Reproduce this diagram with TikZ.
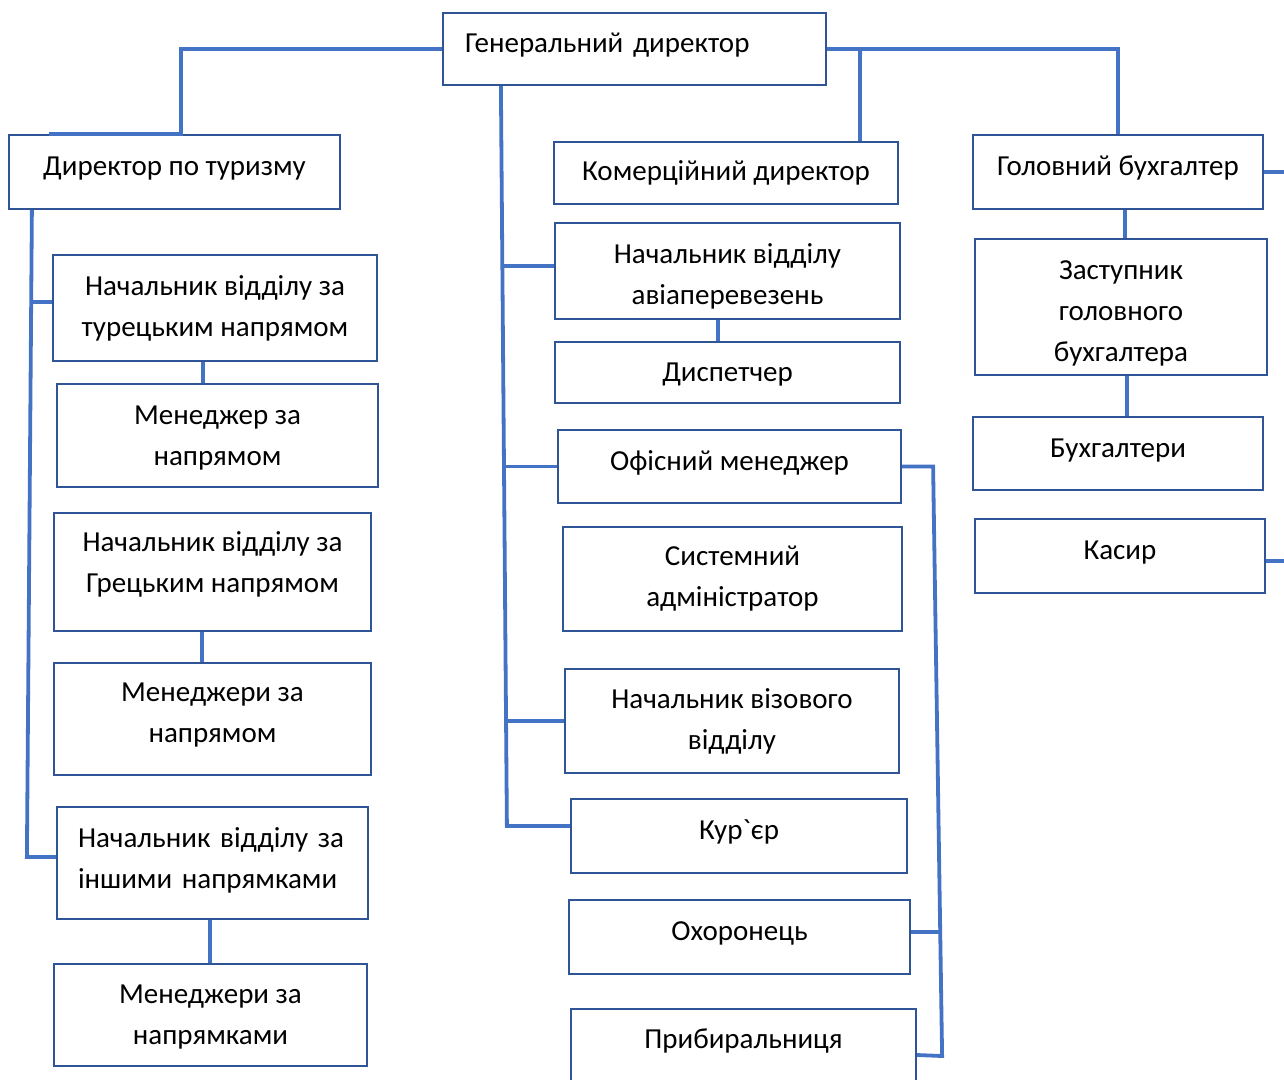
\documentclass[tikz,border=0pt]{standalone}
\usepackage{fontspec}
\setmainfont{Carlito}
\newfontfamily\rawCarlito{Carlito}
\definecolor{boxBlue}{HTML}{2F5597}
\definecolor{linkBlue}{HTML}{4472C4}
\tikzstyle{orgBox}=[draw=boxBlue, line width=2.2pt, rectangle, align=center, inner sep=0pt, font=\fontsize{29}{41}\selectfont]
\tikzstyle{oneLine}=[text height=20pt, text depth=13pt]
\tikzstyle{orgLink}=[draw=linkBlue, line width=3.8pt]

\begin{document}
\begin{tikzpicture}[x=1pt, y=-1pt]
	\useasboundingbox (0,0) rectangle (1284,1079);

	\node[orgBox, oneLine, minimum width=383pt, minimum height=72pt, text width=339pt, align=left] (gen) at (634.5, 49) {Генеральний директор};

	\node[orgBox, oneLine, minimum width=331pt, minimum height=74pt] (tour) at (174.5, 172) {Директор по туризму};
	\node[orgBox, oneLine, text height=28pt, minimum width=344pt, minimum height=62pt] (com) at (726, 173) {Комерційний директор};
	\node[orgBox, oneLine, minimum width=290pt, minimum height=74pt] (acc) at (1118, 172) {Головний бухгалтер};

	\node[orgBox, minimum width=324pt, minimum height=106pt] (turk) at (215, 308) {Начальник відділу за\\турецьким напрямом};
	\node[orgBox, text depth=0pt, minimum width=321pt, minimum height=103pt] (mgr1) at (217.5, 435.5) {Менеджер за\\напрямом};
	\node[orgBox, text depth=20pt, minimum width=317pt, minimum height=118pt] (greek) at (212.5, 572) {Начальник відділу за\\Грецьким напрямом};
	\node[orgBox, text depth=12pt, minimum width=317pt, minimum height=112pt] (mgr2) at (212.5, 719) {Менеджери за\\напрямом};
	\node[orgBox, text depth=50pt, minimum width=311pt, minimum height=112pt, text width=269pt, align=left] (other) at (212.5, 863) {\makebox[268pt][s]{Начальник відділу за}\\іншими напрямками};
	\node[orgBox, text depth=0pt, minimum width=313pt, minimum height=102pt] (mgr3) at (210.5, 1015) {Менеджери за\\напрямками};

	\node[orgBox, text height=71pt, minimum width=345pt, minimum height=96pt] (avia) at (727.5, 271) {Начальник відділу\\авіаперевезень};
	\node[orgBox, oneLine, text height=30pt, minimum width=345pt, minimum height=61pt] (disp) at (727.5, 372.5) {Диспетчер};
	\node[orgBox, oneLine, minimum width=343pt, minimum height=73pt] (office) at (729.5, 466.5) {Офісний менеджер};
	\node[orgBox, minimum width=339pt, minimum height=104pt] (sysadm) at (732.5, 579) {Системний\\адміністратор};
	\node[orgBox, minimum width=334pt, minimum height=104pt] (visa) at (732, 721) {Начальник візового\\відділу};
	\node[orgBox, oneLine, minimum width=336pt, minimum height=74pt] (courier) at (739, 836) {Кур{\rawCarlito`}єр};
	\node[orgBox, oneLine, minimum width=341pt, minimum height=74pt] (guard) at (739.5, 937) {Охоронець};
	\node[orgBox, oneLine, minimum width=345pt, minimum height=72pt] (cleaner) at (743.5, 1045) {Прибиральниця};

	\node[orgBox, text height=113pt, minimum width=292pt, minimum height=136pt] (deputy) at (1121, 307) {Заступник\\головного\\бухгалтера};
	\node[orgBox, oneLine, minimum width=290pt, minimum height=73pt] (accs) at (1118, 453.5) {Бухгалтери};
	\node[orgBox, oneLine, minimum width=290pt, minimum height=74pt] (cashier) at (1120, 556) {Касир};

	% top level
	\draw[orgLink] (gen.west) -| ([xshift=6.5pt]tour.north) -- ([xshift=41pt]tour.north west);
	\draw[orgLink] (gen.east) -| (acc.north);
	\draw[orgLink] ([xshift=33pt]gen.east) -- ([xshift=307pt]com.north west);
	\draw[orgLink] ([xshift=59pt]gen.south west) -- ([xshift=-63pt, yshift=10pt]courier.west) -- ([yshift=10pt]courier.west);
	\draw[orgLink] ([xshift=-50pt, yshift=5pt]avia.west) -- ([yshift=5pt]avia.west);
	\draw[orgLink] ([xshift=-52pt]office.west) -- (office.west);
	\draw[orgLink] ([xshift=-57pt]visa.west) -- (visa.west);

	% tourism branch
	\draw[orgLink] ([xshift=24pt]tour.south west) -- ([xshift=-29pt, yshift=6pt]other.west) -- ([yshift=6pt]other.west);
	\draw[orgLink] ([xshift=-20pt, yshift=6pt]turk.west) -- ([yshift=6pt]turk.west);
	\draw[orgLink] ([xshift=-12pt]turk.south) -- ([xshift=-14.5pt]mgr1.north);
	\draw[orgLink] ([xshift=-10.5pt]greek.south) -- ([xshift=-10.5pt]mgr2.north);
	\draw[orgLink] ([xshift=-2.5pt]other.south) -- ([xshift=-0.5pt]mgr3.north);

	% commercial branch
	\draw[orgLink] ([xshift=-9.5pt]avia.south) -- ([xshift=-9.5pt]disp.north);
	\draw[orgLink] (office.east) -- ([xshift=31pt]office.east) -- ([xshift=25pt, yshift=-11pt]cleaner.east) -- ([yshift=-10pt]cleaner.east);
	\draw[orgLink] ([yshift=5pt]guard.east) -- ([xshift=28pt, yshift=5pt]guard.east);

	% accounting branch
	\draw[orgLink] ([xshift=7pt]acc.south) -- ([xshift=4pt]deputy.north);
	\draw[orgLink] ([xshift=6pt]deputy.south) -- ([xshift=9pt]accs.north);
	\draw[orgLink] (acc.east) -- ([xshift=22pt]acc.east);
	\draw[orgLink] ([yshift=-5pt]cashier.east) -- ([xshift=20pt, yshift=-5pt]cashier.east);
\end{tikzpicture}
\end{document}
